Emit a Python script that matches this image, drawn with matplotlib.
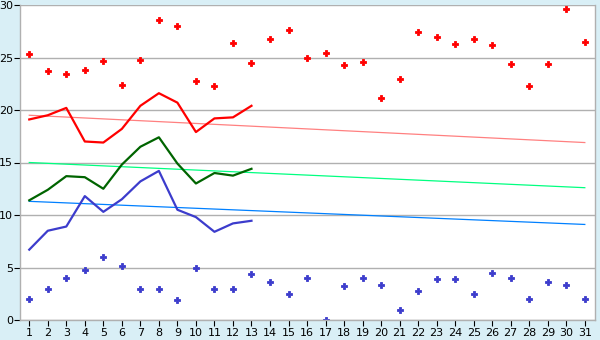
import matplotlib.pyplot as plt

days = list(range(1, 32))

max_temp = [25.3, 23.7, 23.4, 23.8, 24.7, 22.4, 24.8, 28.6, 28.0, 22.8,
            22.3, 26.4, 24.5, 26.8, 27.6, 25.0, 25.4, 24.3, 24.6, 21.1,
            23.0, 27.4, 27.0, 26.3, 26.8, 26.2, 24.4, 22.3, 24.4, 29.6, 26.5]
min_temp = [2.0, 3.0, 4.0, 4.8, 6.0, 5.1, 3.0, 3.0, 1.9, 5.0,
            3.0, 3.0, 4.35, 3.6, 2.45, 4.0, 0.0, 3.2, 4.0, 3.3,
            1.0, 2.8, 3.9, 3.9, 2.45, 4.45, 4.0, 2.0, 3.6, 3.3, 2.0]

line_days = list(range(1, 14))
red_line = [19.1, 19.5, 20.2, 17.0, 16.9, 18.2, 20.4, 21.6, 20.7, 17.9, 19.2, 19.3, 20.4]
green_line = [11.4, 12.4, 13.7, 13.6, 12.5, 14.8, 16.5, 17.4, 14.9, 13.0, 14.0, 13.75, 14.4]
blue_line = [6.7, 8.5, 8.9, 11.8, 10.3, 11.5, 13.2, 14.2, 10.5, 9.8, 8.4, 9.2, 9.45]

trend_days = [1, 31]
red_trend = [19.5, 16.9]
green_trend = [15.0, 12.6]
blue_trend = [11.3, 9.1]

bg = '#d9eff6'
fig = plt.figure(figsize=(6, 3.4), dpi=100, facecolor=bg)
ax = fig.add_axes([20/600, 20/340, 575/600, 315/340])
ax.set_facecolor('white')

# trend lines
ax.plot(trend_days, red_trend, color='#ff8080', lw=0.9)
ax.plot(trend_days, green_trend, color='#00ff80', lw=0.9)
ax.plot(trend_days, blue_trend, color='#0080ff', lw=0.9)

# main lines
ax.plot(line_days, red_line, color='#ff0000', lw=1.6)
ax.plot(line_days, green_line, color='#006400', lw=1.6)
ax.plot(line_days, blue_line, color='#3c3ccc', lw=1.6)

# daily points
ax.plot(days, max_temp, ls='none', marker='P', ms=5, color='#ff0000', mew=0.6)
ax.plot(days, min_temp, ls='none', marker='P', ms=5, color='#3c3ccc', mew=0.6)

ax.set_xlim(0.5, 31.55)
ax.set_ylim(0, 30)
ax.set_xticks(days)
ax.set_yticks([0, 5, 10, 15, 20, 25, 30])
ax.yaxis.grid(True, color='#b0b0b0', lw=1)
ax.set_axisbelow(True)
for s in ax.spines.values():
    s.set_color('#b0b0b0')
    s.set_linewidth(1)
ax.spines['top'].set_visible(False)
ax.tick_params(axis='both', colors='#000000', labelsize=8, length=4, width=0.8, pad=2)
ax.tick_params(axis='y', pad=1)

fig.savefig('out.png', dpi=100, facecolor=bg)
